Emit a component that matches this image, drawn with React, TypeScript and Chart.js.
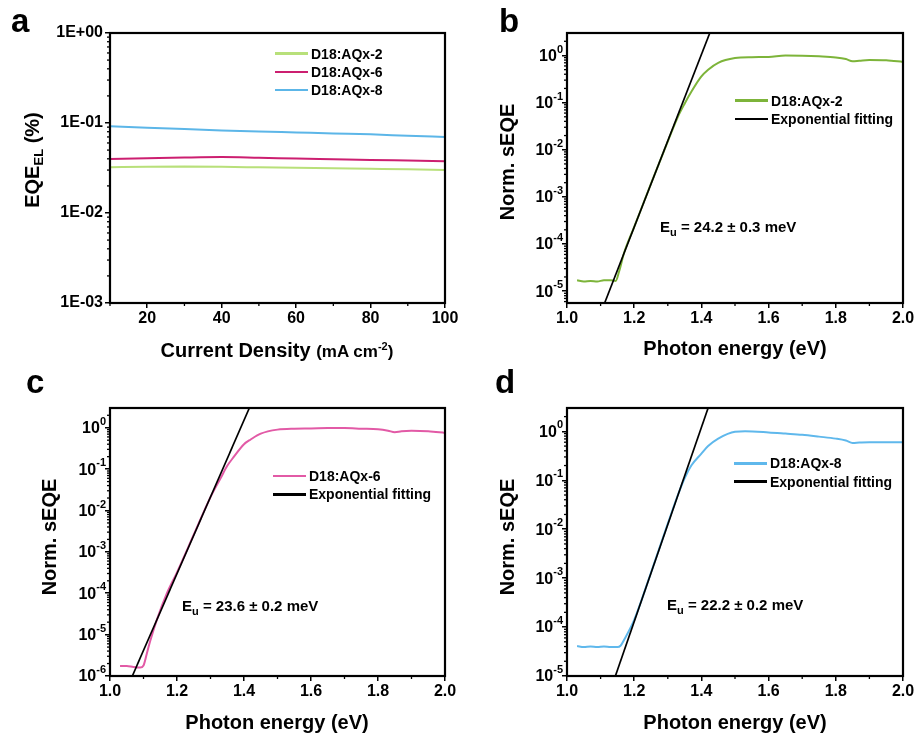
import React, { useEffect, useRef } from 'react';
import { Chart, registerables } from 'chart.js';
Chart.register(...registerables);

const FONT = '"Liberation Sans", Arial, Helvetica, sans-serif';

// ---------- Panel a data ----------
const currentDensity = [10, 20, 30, 40, 50, 60, 70, 80, 90, 100];
const eqeAQx2 = [0.0323, 0.0327, 0.0328, 0.0326, 0.0322, 0.0318, 0.0314, 0.031, 0.0306, 0.0301];
const eqeAQx6 = [0.0397, 0.0405, 0.0413, 0.0418, 0.0411, 0.0403, 0.0396, 0.0389, 0.0383, 0.0377];
const eqeAQx8 = [0.092, 0.0885, 0.0855, 0.0828, 0.0805, 0.0785, 0.0765, 0.0748, 0.0722, 0.07];
const eqeYTicks = [1e-3, 1e-2, 1e-1, 1];
const eqeYLabels = ['1E-03', '1E-02', '1E-01', '1E+00'];
const currentXTicks = [20, 40, 60, 80, 100];
const currentXLabels = ['20', '40', '60', '80', '100'];
const currentXMinor = [10, 30, 50, 70, 90];

// ---------- Panel b data ----------
const energyB = [1.03, 1.05, 1.07, 1.09, 1.11, 1.13, 1.145, 1.155, 1.17, 1.2, 1.25, 1.3, 1.33, 1.35, 1.37, 1.4, 1.42, 1.45, 1.5, 1.55, 1.6, 1.65, 1.7, 1.75, 1.8, 1.83, 1.85, 1.87, 1.9, 1.95, 2.0];
const seqeB = [1.7e-5, 1.6e-5, 1.65e-5, 1.6e-5, 1.7e-5, 1.7e-5, 1.65e-5, 2.6e-5, 6.5e-5, 2.3e-4, 1.9e-3, 1.5e-2, 0.05, 0.095, 0.17, 0.36, 0.5, 0.7, 0.88, 0.92, 0.93, 1.0, 0.99, 0.96, 0.91, 0.84, 0.75, 0.77, 0.8, 0.79, 0.73];
const fitEnergyB = [1.112, 1.425];
const fitB = [5.6e-6, 3.0];

// ---------- Panel c data ----------
const energyC = [1.03, 1.05, 1.07, 1.09, 1.1, 1.11, 1.12, 1.14, 1.17, 1.2, 1.25, 1.3, 1.33, 1.35, 1.37, 1.4, 1.42, 1.45, 1.5, 1.55, 1.6, 1.65, 1.7, 1.75, 1.8, 1.83, 1.85, 1.87, 1.9, 1.95, 2.0];
const seqeC = [1.75e-6, 1.75e-6, 1.65e-6, 1.6e-6, 1.8e-6, 3.5e-6, 7e-6, 2.3e-5, 1.0e-4, 3.2e-4, 2.6e-3, 0.021, 0.06, 0.12, 0.2, 0.4, 0.52, 0.72, 0.9, 0.95, 0.96, 0.98, 0.98, 0.95, 0.92, 0.85, 0.78, 0.82, 0.84, 0.82, 0.75];
const fitEnergyC = [1.0666, 1.416];
const fitC = [1e-6, 3.0];

// ---------- Panel d data ----------
const energyD = [1.03, 1.05, 1.07, 1.09, 1.11, 1.13, 1.15, 1.16, 1.17, 1.2, 1.25, 1.3, 1.33, 1.35, 1.37, 1.4, 1.42, 1.45, 1.5, 1.53, 1.6, 1.65, 1.7, 1.75, 1.8, 1.83, 1.85, 1.87, 1.9, 1.95, 2.0];
const seqeD = [4.1e-5, 3.9e-5, 4.0e-5, 3.9e-5, 4.0e-5, 3.9e-5, 3.9e-5, 4.2e-5, 5.5e-5, 1.4e-4, 1.3e-3, 0.013, 0.05, 0.11, 0.2, 0.35, 0.5, 0.71, 0.98, 1.0, 0.95, 0.9, 0.85, 0.78, 0.71, 0.65, 0.58, 0.59, 0.6, 0.6, 0.6];
const fitEnergyD = [1.144, 1.42];
const fitD = [1e-5, 3.0];

// ---------- shared energy axis ----------
const energyXTicks = [1.0, 1.2, 1.4, 1.6, 1.8, 2.0];
const energyXLabels = ['1.0', '1.2', '1.4', '1.6', '1.8', '2.0'];
const energyXMinor = [1.1, 1.3, 1.5, 1.7, 1.9];
const seqeYTicks5 = [1e-5, 1e-4, 1e-3, 1e-2, 1e-1, 1];
const seqeYExp5 = ['-5', '-4', '-3', '-2', '-1', '0'];
const seqeYTicks6 = [1e-6, 1e-5, 1e-4, 1e-3, 1e-2, 1e-1, 1];
const seqeYExp6 = ['-6', '-5', '-4', '-3', '-2', '-1', '0'];

const xy = (xs: number[], ys: number[]) => xs.map((x, i) => ({ x, y: ys[i] }));

const logMinor = (min: number, max: number) => {
  const out: number[] = [];
  for (let d = Math.floor(Math.log10(min)); d <= Math.ceil(Math.log10(max)); d++) {
    for (let k = 2; k <= 9; k++) {
      const v = k * Math.pow(10, d);
      if (v > min && v < max) out.push(v);
    }
  }
  return out;
};

const framePlugin = {
  id: 'frame',
  afterDatasetsDraw(chart: any, _args: any, opts: any) {
    const { ctx, chartArea: a, scales } = chart;
    ctx.save();
    ctx.strokeStyle = '#000';
    ctx.lineWidth = 1.3;
    (opts.minorX || []).forEach((v: number) => {
      const x = scales.x.getPixelForValue(v);
      ctx.beginPath();
      ctx.moveTo(x, a.bottom);
      ctx.lineTo(x, a.bottom + 3);
      ctx.stroke();
    });
    (opts.minorY || []).forEach((v: number) => {
      const y = scales.y.getPixelForValue(v);
      ctx.beginPath();
      ctx.moveTo(a.left - 3, y);
      ctx.lineTo(a.left, y);
      ctx.stroke();
    });
    ctx.lineWidth = 2.2;
    ctx.strokeRect(a.left, a.top, a.right - a.left, a.bottom - a.top);

    // power-of-ten tick labels: base "10" with a raised exponent
    const exps: string[] | undefined = opts.yExp;
    const vals: number[] | undefined = opts.yExpTicks;
    if (exps && vals) {
      ctx.fillStyle = '#000';
      ctx.textBaseline = 'middle';
      ctx.textAlign = 'right';
      vals.forEach((v, i) => {
        const y = scales.y.getPixelForValue(v);
        const xr = a.left - 4;
        ctx.font = `bold 11px ${FONT}`;
        const ew = ctx.measureText(exps[i]).width;
        ctx.fillText(exps[i], xr, y - 6);
        ctx.font = `bold 16px ${FONT}`;
        ctx.fillText('10', xr - ew, y + 1);
      });
    }
    ctx.restore();
  },
};

type PanelProps = {
  left: number;
  top: number;
  width: number;
  height: number;
  area: { left: number; top: number; right: number; bottom: number };
  datasets: any[];
  xMin: number;
  xMax: number;
  xTicks: number[];
  xLabels: string[];
  xMinor: number[];
  yMin: number;
  yMax: number;
  yTicks: number[];
  yLabels?: string[];
  yExp?: string[];
};

function Panel(p: PanelProps) {
  const ref = useRef<HTMLCanvasElement>(null);
  useEffect(() => {
    if (!ref.current) return;
    const yAxisWidth = p.area.left;
    const xAxisHeight = p.height - p.area.bottom;
    const tickFont = { family: FONT, size: 16, weight: 'bold' as const };
    const chart = new Chart(ref.current, {
      type: 'line',
      data: { datasets: p.datasets },
      options: {
        animation: false,
        responsive: false,
        events: [],
        layout: { padding: { left: 0, top: p.area.top, right: p.width - p.area.right, bottom: 0 } },
        elements: { point: { radius: 0 } },
        plugins: {
          legend: { display: false },
          tooltip: { enabled: false },
          frame: {
            minorX: p.xMinor,
            minorY: logMinor(p.yMin, p.yMax),
            yExp: p.yExp,
            yExpTicks: p.yExp ? p.yTicks : undefined,
          },
        } as any,
        scales: {
          x: {
            type: 'linear',
            min: p.xMin,
            max: p.xMax,
            border: { display: false },
            grid: { drawOnChartArea: false, drawTicks: true, tickLength: 5, color: '#000', lineWidth: 1.5 },
            ticks: {
              autoSkip: false,
              maxRotation: 0,
              padding: 1,
              color: '#000',
              font: tickFont,
              callback: (_v: any, i: number) => p.xLabels[i],
            },
            afterBuildTicks: (s: any) => {
              s.ticks = p.xTicks.map((v) => ({ value: v }));
            },
            afterFit: (s: any) => {
              s.height = xAxisHeight;
              s.paddingLeft = 0;
              s.paddingRight = 0;
            },
          },
          y: {
            type: 'logarithmic',
            min: p.yMin,
            max: p.yMax,
            border: { display: false },
            grid: { drawOnChartArea: false, drawTicks: true, tickLength: 5, color: '#000', lineWidth: 1.5 },
            ticks: {
              display: !p.yExp,
              autoSkip: false,
              padding: 2,
              color: '#000',
              font: tickFont,
              callback: (_v: any, i: number) => (p.yLabels ? p.yLabels[i] : ''),
            },
            afterBuildTicks: (s: any) => {
              s.ticks = p.yTicks.map((v) => ({ value: v }));
            },
            afterFit: (s: any) => {
              s.width = yAxisWidth;
              s.paddingTop = 0;
              s.paddingBottom = 0;
            },
          },
        },
      } as any,
      plugins: [framePlugin as any],
    });
    return () => chart.destroy();
  }, []);
  return (
    <canvas
      ref={ref}
      width={p.width}
      height={p.height}
      style={{ position: 'absolute', left: p.left, top: p.top, width: p.width, height: p.height }}
    />
  );
}

const txt: React.CSSProperties = { position: 'absolute', fontFamily: FONT, fontWeight: 'bold', color: '#000', whiteSpace: 'nowrap', lineHeight: 1 };

function Legend({ x, y, items }: { x: number; y: number; items: { label: string; color: string }[] }) {
  return (
    <>
      {items.map((it, i) => (
        <div key={i} style={{ ...txt, left: x, top: y + i * 18.3, transform: 'translateY(-50%)', display: 'flex', alignItems: 'center', fontSize: 14 }}>
          <span style={{ display: 'inline-block', width: 33, height: 2.5, background: it.color, marginRight: 3 }} />
          <span>{it.label}</span>
        </div>
      ))}
    </>
  );
}

function YTitle({ cx, cy, children }: { cx: number; cy: number; children: React.ReactNode }) {
  return (
    <div style={{ ...txt, left: cx, top: cy, fontSize: 20, transform: 'translate(-50%, -50%) rotate(-90deg)' }}>{children}</div>
  );
}

function XTitle({ cx, cy, children }: { cx: number; cy: number; children: React.ReactNode }) {
  return <div style={{ ...txt, left: cx, top: cy, fontSize: 20, transform: 'translate(-50%, -50%)' }}>{children}</div>;
}

function Eu({ x, y, text }: { x: number; y: number; text: string }) {
  return (
    <div style={{ ...txt, left: x, top: y, fontSize: 15, transform: 'translateY(-50%)' }}>
      E<sub style={{ fontSize: 11, verticalAlign: -4 }}>u</sub> {text}
    </div>
  );
}

function Letter({ x, y, ch }: { x: number; y: number; ch: string }) {
  return <div style={{ ...txt, left: x, top: y, fontSize: 33 }}>{ch}</div>;
}

const GREEN_A = '#b8e07a';
const MAGENTA_A = '#cc1f70';
const BLUE_A = '#5cb6e8';
const GREEN_B = '#7db43a';
const PINK_C = '#e25aa6';
const BLUE_D = '#5fb8ec';

const curve = (label: string, data: any[], color: string) => ({
  label,
  data,
  borderColor: color,
  backgroundColor: color,
  borderWidth: 2,
  cubicInterpolationMode: 'monotone',
  fill: false,
  order: 1,
});
const fitLine = (data: any[]) => ({
  label: 'Exponential fitting',
  data,
  borderColor: '#000',
  borderWidth: 1.7,
  tension: 0,
  fill: false,
  order: 0,
});

export default function App() {
  useEffect(() => {
    document.body.style.margin = '0';
    document.body.style.background = '#fff';
  }, []);
  const W = 458;
  const H = 368;
  return (
    <div style={{ position: 'absolute', left: 0, top: 0, width: 917, height: 738, background: '#fff', overflow: 'hidden' }}>
      {/* Panel a */}
      <Panel
        left={0}
        top={0}
        width={W}
        height={H}
        area={{ left: 110, top: 33, right: 445, bottom: 303 }}
        datasets={[
          curve('D18:AQx-2', xy(currentDensity, eqeAQx2), GREEN_A),
          curve('D18:AQx-6', xy(currentDensity, eqeAQx6), MAGENTA_A),
          curve('D18:AQx-8', xy(currentDensity, eqeAQx8), BLUE_A),
        ]}
        xMin={10}
        xMax={100}
        xTicks={currentXTicks}
        xLabels={currentXLabels}
        xMinor={currentXMinor}
        yMin={1e-3}
        yMax={1}
        yTicks={eqeYTicks}
        yLabels={eqeYLabels}
      />
      {/* Panel b */}
      <Panel
        left={459}
        top={0}
        width={W}
        height={H}
        area={{ left: 108, top: 33, right: 444, bottom: 303 }}
        datasets={[curve('D18:AQx-2', xy(energyB, seqeB), GREEN_B), fitLine(xy(fitEnergyB, fitB))]}
        xMin={1.0}
        xMax={2.0}
        xTicks={energyXTicks}
        xLabels={energyXLabels}
        xMinor={energyXMinor}
        yMin={5.6e-6}
        yMax={3.0}
        yTicks={seqeYTicks5}
        yExp={seqeYExp5}
      />
      {/* Panel c */}
      <Panel
        left={0}
        top={370}
        width={W}
        height={H}
        area={{ left: 110, top: 38, right: 445, bottom: 306 }}
        datasets={[curve('D18:AQx-6', xy(energyC, seqeC), PINK_C), fitLine(xy(fitEnergyC, fitC))]}
        xMin={1.0}
        xMax={2.0}
        xTicks={energyXTicks}
        xLabels={energyXLabels}
        xMinor={energyXMinor}
        yMin={1e-6}
        yMax={3.0}
        yTicks={seqeYTicks6}
        yExp={seqeYExp6}
      />
      {/* Panel d */}
      <Panel
        left={459}
        top={370}
        width={W}
        height={H}
        area={{ left: 108, top: 38, right: 444, bottom: 306 }}
        datasets={[curve('D18:AQx-8', xy(energyD, seqeD), BLUE_D), fitLine(xy(fitEnergyD, fitD))]}
        xMin={1.0}
        xMax={2.0}
        xTicks={energyXTicks}
        xLabels={energyXLabels}
        xMinor={energyXMinor}
        yMin={1e-5}
        yMax={3.0}
        yTicks={seqeYTicks5}
        yExp={seqeYExp5}
      />

      <Letter x={11} y={4} ch="a" />
      <Letter x={499} y={4} ch="b" />
      <Letter x={26} y={365} ch="c" />
      <Letter x={495} y={365} ch="d" />

      <YTitle cx={33} cy={160}>
        EQE<sub style={{ fontSize: 13, verticalAlign: -4 }}>EL</sub> (%)
      </YTitle>
      <XTitle cx={277} cy={350}>
        Current Density <span style={{ fontSize: 17 }}>(mA cm<sup style={{ fontSize: 11, verticalAlign: 7 }}>-2</sup>)</span>
      </XTitle>
      <YTitle cx={507} cy={162}>Norm. sEQE</YTitle>
      <XTitle cx={735} cy={348}>Photon energy (eV)</XTitle>
      <YTitle cx={49} cy={537}>Norm. sEQE</YTitle>
      <XTitle cx={277} cy={722}>Photon energy (eV)</XTitle>
      <YTitle cx={507} cy={537}>Norm. sEQE</YTitle>
      <XTitle cx={735} cy={722}>Photon energy (eV)</XTitle>

      <Legend
        x={275}
        y={53.5}
        items={[
          { label: 'D18:AQx-2', color: GREEN_A },
          { label: 'D18:AQx-6', color: MAGENTA_A },
          { label: 'D18:AQx-8', color: BLUE_A },
        ]}
      />
      <Legend
        x={735}
        y={100.7}
        items={[
          { label: 'D18:AQx-2', color: GREEN_B },
          { label: 'Exponential fitting', color: '#000' },
        ]}
      />
      <Legend
        x={273}
        y={476}
        items={[
          { label: 'D18:AQx-6', color: PINK_C },
          { label: 'Exponential fitting', color: '#000' },
        ]}
      />
      <Legend
        x={734}
        y={463.3}
        items={[
          { label: 'D18:AQx-8', color: BLUE_D },
          { label: 'Exponential fitting', color: '#000' },
        ]}
      />

      <Eu x={660} y={228} text="= 24.2 ± 0.3 meV" />
      <Eu x={182} y={607} text="= 23.6 ± 0.2 meV" />
      <Eu x={667} y={606} text="= 22.2 ± 0.2 meV" />
    </div>
  );
}
